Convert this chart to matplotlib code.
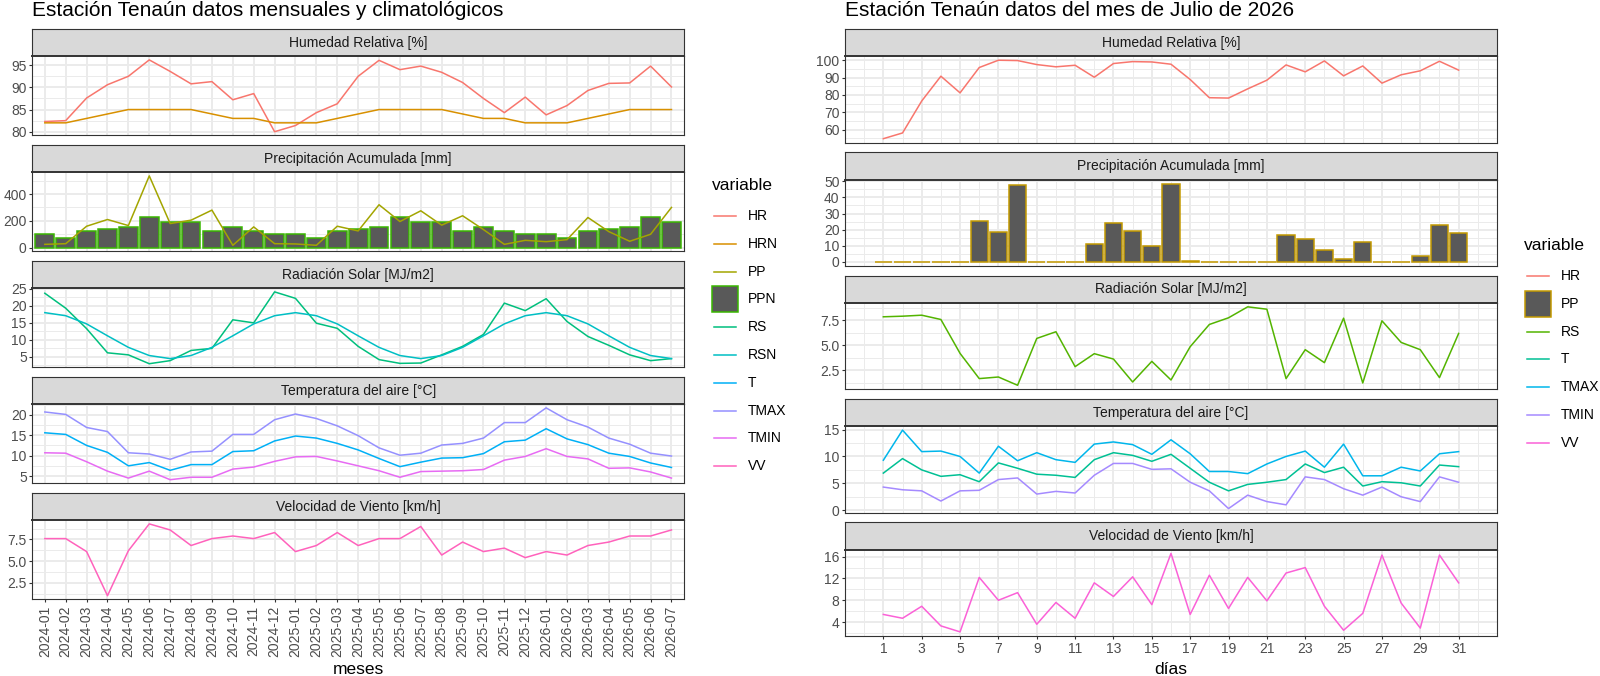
import matplotlib
matplotlib.use("Agg")
import matplotlib.pyplot as plt
from matplotlib.lines import Line2D
from matplotlib.patches import Rectangle
from matplotlib.ticker import FixedLocator, NullLocator

plt.rcParams["font.family"] = ["Liberation Sans", "DejaVu Sans"]

W, H = 1600, 676

# ---- monthly / climatological data (left) ----
MESES = ["2024-01", "2024-02", "2024-03", "2024-04", "2024-05", "2024-06",
         "2024-07", "2024-08", "2024-09", "2024-10", "2024-11", "2024-12",
         "2025-01", "2025-02", "2025-03", "2025-04", "2025-05", "2025-06",
         "2025-07", "2025-08", "2025-09", "2025-10", "2025-11", "2025-12",
         "2026-01", "2026-02", "2026-03", "2026-04", "2026-05", "2026-06",
         "2026-07"]
HR_M = [82.3, 82.5, 87.6, 90.6, 92.5, 96.2, 93.6, 90.8, 91.3, 87.2, 88.6, 80.0,
        81.4, 84.3, 86.3, 92.5, 96.1, 94.0, 94.8, 93.4, 91.1, 87.5, 84.3, 87.8,
        83.8, 85.9, 89.3, 90.9, 91.0, 94.8, 90.1]
HRN_M = [82, 82, 83, 84, 85, 85, 85, 85, 84, 83, 83, 82,
         82, 82, 83, 84, 85, 85, 85, 85, 84, 83, 83, 82,
         82, 82, 83, 84, 85, 85, 85]
PP_M = [25, 30, 160, 210, 165, 535, 180, 205, 280, 18, 155, 30,
        28, 18, 160, 125, 320, 195, 275, 168, 238, 135, 25, 55,
        45, 60, 225, 120, 48, 100, 300]
PPN_M = [100, 70, 122, 140, 157, 230, 192, 192, 122, 157, 122, 100,
         100, 70, 122, 140, 157, 230, 192, 192, 122, 157, 122, 100,
         100, 70, 122, 140, 157, 230, 192]
RS_M = [23.7, 19.3, 13.3, 6.2, 5.6, 3.0, 3.9, 6.9, 7.5, 15.9, 15.0, 24.1,
        22.2, 14.9, 13.4, 8.1, 4.2, 3.1, 3.2, 5.6, 8.1, 11.6, 20.8, 18.6,
        22.1, 15.4, 11.0, 8.4, 5.6, 3.9, 4.5]
RSN_M = [18.0, 17.1, 14.7, 11.2, 7.8, 5.4, 4.5, 5.4, 7.8, 11.2, 14.7, 17.1,
         18.0, 17.1, 14.7, 11.2, 7.8, 5.4, 4.5, 5.4, 7.8, 11.2, 14.7, 17.1,
         18.0, 17.1, 14.7, 11.2, 7.8, 5.4, 4.5]
T_M = [15.6, 15.2, 12.5, 10.8, 7.5, 8.3, 6.4, 7.8, 7.8, 11.0, 11.2, 13.6,
       14.8, 14.3, 13.0, 11.4, 9.3, 7.3, 8.4, 9.4, 9.5, 10.5, 13.4, 13.8,
       16.6, 14.1, 12.7, 10.6, 9.8, 8.2, 7.1]
TMAX_M = [20.7, 20.1, 16.9, 15.9, 10.7, 10.4, 9.1, 10.9, 11.1, 15.2, 15.2, 18.8,
          20.2, 19.1, 17.3, 14.9, 11.9, 10.1, 10.6, 12.6, 13.0, 14.3, 18.1, 18.1,
          21.7, 18.8, 17.0, 14.3, 12.8, 10.6, 9.9]
TMIN_M = [10.7, 10.6, 8.5, 6.2, 4.5, 6.2, 4.1, 4.7, 4.7, 6.7, 7.2, 8.6,
          9.7, 9.8, 8.7, 7.5, 6.3, 4.7, 6.1, 6.2, 6.3, 6.6, 8.9, 9.8,
          11.7, 9.8, 9.2, 6.9, 7.0, 6.0, 4.5]
VV_M = [7.6, 7.6, 6.1, 1.0, 6.2, 9.3, 8.6, 6.8, 7.6, 7.9, 7.6, 8.3,
        6.1, 6.8, 8.3, 6.8, 7.6, 7.6, 9.0, 5.7, 7.2, 6.1, 6.5, 5.4,
        6.1, 5.7, 6.8, 7.2, 7.9, 7.9, 8.6]

# ---- daily data, July 2026 (right) ----
DIAS = list(range(1, 32))
HR_D = [54.8, 58.1, 76.5, 90.8, 81.2, 95.8, 100.0, 99.8, 97.5, 96.2, 97.1, 90.2,
        98.1, 99.2, 99.0, 97.7, 88.9, 78.4, 78.2, 83.5, 88.5, 97.3, 93.3, 99.6,
        91.0, 96.7, 86.8, 91.6, 93.9, 99.4, 94.3]
PP_D = [0, 0, 0, 0, 0, 25.2, 18.4, 47.7, 0, 0, 0, 10.9, 24.0, 19.1, 9.8, 48.6,
        0.8, 0, 0, 0, 0, 16.6, 14.5, 7.4, 1.8, 12.3, 0, 0, 3.5, 22.7, 18.0]
RS_D = [7.87, 7.93, 8.03, 7.6, 4.2, 1.67, 1.83, 1.0, 5.7, 6.37, 2.87, 4.17,
        3.63, 1.33, 3.4, 1.53, 4.87, 7.1, 7.77, 8.87, 8.63, 1.67, 4.57, 3.27,
        7.73, 1.23, 7.47, 5.3, 4.57, 1.77, 6.2]
T_D = [6.9, 9.6, 7.5, 6.3, 6.6, 5.3, 8.8, 7.8, 6.7, 6.5, 6.1, 9.4, 10.7, 10.2,
       9.1, 10.4, 7.8, 5.2, 3.6, 4.8, 5.2, 5.7, 8.6, 7.0, 8.0, 4.5, 5.3, 5.1,
       4.5, 8.4, 8.1]
TMAX_D = [9.3, 14.9, 10.9, 11.0, 10.0, 6.9, 11.9, 9.2, 10.7, 9.4, 8.9, 12.3,
          12.7, 12.2, 10.4, 13.1, 10.5, 7.2, 7.2, 6.8, 8.6, 10.0, 11.0, 8.0,
          12.3, 6.4, 6.4, 8.0, 7.3, 10.5, 10.9]
TMIN_D = [4.3, 3.8, 3.6, 1.7, 3.6, 3.7, 5.7, 6.0, 3.0, 3.5, 3.2, 6.5, 8.7, 8.7,
          7.6, 7.7, 5.2, 3.6, 0.3, 2.8, 1.6, 1.0, 6.2, 5.7, 4.0, 2.8, 4.3, 2.5,
          1.6, 6.2, 5.2]
VV_D = [5.4, 4.7, 6.9, 3.3, 2.2, 12.2, 8.0, 9.4, 3.6, 7.6, 4.7, 11.2, 8.7, 12.3,
        7.2, 16.6, 5.4, 12.6, 6.5, 12.2, 7.9, 13.0, 14.0, 6.9, 2.5, 5.6, 16.3,
        7.5, 2.9, 16.3, 11.2]

# ggplot hue palettes (10 and 7 levels)
CL = {"HR": "#F8766D", "HRN": "#D89000", "PP": "#A3A500", "PPN": "#39B600",
      "RS": "#00BF7D", "RSN": "#00BFC4", "T": "#00B0F6", "TMAX": "#9590FF",
      "TMIN": "#E76BF3", "VV": "#FF62BC"}
CR = {"HR": "#F8766D", "PP": "#C49A00", "RS": "#53B400", "T": "#00C094",
      "TMAX": "#00B6EB", "TMIN": "#A58AFF", "VV": "#FB61D7"}
BAR_FILL = "#595959"

TOP, STRIP, GAP = 29, 27.3, 9.7
LW = 1.1
TXT = "#4D4D4D"
BORDER = "#333333"
FS = 10


def px_axes(fig, x0, y0, x1, y1):
    return fig.add_axes([x0 / W, 1 - y1 / H, (x1 - x0) / W, (y1 - y0) / H])


def facet(fig, x0, x1, row, hp, title, yticks, ylabels=None):
    y0 = TOP + row * (STRIP + hp + GAP)
    st = px_axes(fig, x0, y0, x1, y0 + STRIP)
    st.set_facecolor("#D9D9D9")
    st.set_xticks([]); st.set_yticks([])
    for s in st.spines.values():
        s.set_color(BORDER); s.set_linewidth(0.8)
    st.text(0.5, 0.5, title, ha="center", va="center", fontsize=FS,
            color="#1A1A1A", transform=st.transAxes)
    ax = px_axes(fig, x0, y0 + STRIP, x1, y0 + STRIP + hp)
    ax.set_axisbelow(True)
    for s in ax.spines.values():
        s.set_color(BORDER); s.set_linewidth(0.8)
    ax.spines["top"].set_linewidth(1.4)
    ax.yaxis.set_major_locator(FixedLocator(yticks))
    mids = [(a + b) / 2 for a, b in zip(yticks[:-1], yticks[1:])]
    step = yticks[1] - yticks[0]
    mids = [yticks[0] - step / 2] + mids + [yticks[-1] + step / 2]
    ax.yaxis.set_minor_locator(FixedLocator(mids))
    if ylabels is not None:
        ax.set_yticklabels(ylabels)
    ax.grid(which="major", color="#EBEBEB", lw=1.4)
    ax.grid(which="minor", color="#EBEBEB", lw=0.7)
    ax.tick_params(axis="y", which="major", direction="out", length=2.5,
                   width=0.8, color=BORDER, labelsize=FS, labelcolor=TXT, pad=1.5)
    ax.tick_params(axis="y", which="minor", length=0)
    ax.tick_params(axis="x", which="both", bottom=False, labelbottom=False)
    ax.margins(y=0.05)
    return ax


fig = plt.figure(figsize=(W / 100, H / 100), dpi=100)

# ---------------- left: monthly ----------------
LX0, LX1, LHP = 32.3, 684, 79
xm = list(range(1, len(MESES) + 1))
left = []
specs_l = [("Humedad Relativa [%]", [80, 85, 90, 95], None),
           ("Precipitación Acumulada [mm]", [0, 200, 400], None),
           ("Radiación Solar [MJ/m2]", [5, 10, 15, 20, 25], None),
           ("Temperatura del aire [°C]", [5, 10, 15, 20], None),
           ("Velocidad de Viento [km/h]", [2.5, 5.0, 7.5], ["2.5", "5.0", "7.5"])]
for i, (t, yt, yl) in enumerate(specs_l):
    ax = facet(fig, LX0, LX1, i, LHP, t, yt, yl)
    ax.set_xlim(0.4, 31.6)
    ax.xaxis.set_major_locator(FixedLocator(xm))
    ax.xaxis.set_minor_locator(NullLocator())
    left.append(ax)

left[0].plot(xm, HR_M, color=CL["HR"], lw=LW)
left[0].plot(xm, HRN_M, color=CL["HRN"], lw=LW)
left[1].use_sticky_edges = False
left[1].bar(xm, PPN_M, width=0.9, color=BAR_FILL, edgecolor=CL["PPN"], lw=1.1)
left[1].plot(xm, PP_M, color=CL["PP"], lw=LW)
left[1].set_xlim(0.4, 31.6)
left[2].plot(xm, RS_M, color=CL["RS"], lw=LW)
left[2].plot(xm, RSN_M, color=CL["RSN"], lw=LW)
left[3].plot(xm, T_M, color=CL["T"], lw=LW)
left[3].plot(xm, TMAX_M, color=CL["TMAX"], lw=LW)
left[3].plot(xm, TMIN_M, color=CL["TMIN"], lw=LW)
left[4].plot(xm, VV_M, color=CL["VV"], lw=LW)
lb = left[4]
lb.tick_params(axis="x", which="major", bottom=True, labelbottom=True,
               direction="out", length=2.5, width=0.8, color=BORDER,
               labelsize=FS, labelcolor=TXT, pad=2)
lb.set_xticklabels(MESES, rotation=90, ha="center", va="top")

# ---------------- right: daily ----------------
RX0, RX1, RHP = 845, 1497, 86.3
right = []
specs_r = [("Humedad Relativa [%]", [60, 70, 80, 90, 100], None),
           ("Precipitación Acumulada [mm]", [0, 10, 20, 30, 40, 50], None),
           ("Radiación Solar [MJ/m2]", [2.5, 5.0, 7.5], ["2.5", "5.0", "7.5"]),
           ("Temperatura del aire [°C]", [0, 5, 10, 15], None),
           ("Velocidad de Viento [km/h]", [4, 8, 12, 16], None)]
for i, (t, yt, yl) in enumerate(specs_r):
    ax = facet(fig, RX0, RX1, i, RHP, t, yt, yl)
    ax.set_xlim(-1.0, 33.0)
    ax.xaxis.set_major_locator(FixedLocator(DIAS[::2]))
    ax.xaxis.set_minor_locator(FixedLocator([0] + DIAS[1::2] + [32]))
    right.append(ax)

right[0].plot(DIAS, HR_D, color=CR["HR"], lw=LW)
right[1].use_sticky_edges = False
right[1].bar(DIAS, PP_D, width=0.9, color=BAR_FILL, edgecolor=CR["PP"], lw=1.1)
right[1].set_xlim(-1.0, 33.0)
right[2].plot(DIAS, RS_D, color=CR["RS"], lw=LW)
right[3].plot(DIAS, T_D, color=CR["T"], lw=LW)
right[3].plot(DIAS, TMAX_D, color=CR["TMAX"], lw=LW)
right[3].plot(DIAS, TMIN_D, color=CR["TMIN"], lw=LW)
right[4].plot(DIAS, VV_D, color=CR["VV"], lw=LW)
rb = right[4]
rb.tick_params(axis="x", which="major", bottom=True, labelbottom=True,
               direction="out", length=2.5, width=0.8, color=BORDER,
               labelsize=FS, labelcolor=TXT, pad=2)

# ---------------- titles ----------------
fig.text(LX0 / W, 1 - 16 / H, "Estación Tenaún datos mensuales y climatológicos",
         fontsize=15, va="baseline", ha="left")
fig.text(RX0 / W, 1 - 16 / H, "Estación Tenaún datos del mes de Julio de 2026",
         fontsize=15, va="baseline", ha="left")
fig.text((LX0 + LX1) / 2 / W, 1 - 674 / H, "meses", fontsize=12.5,
         va="baseline", ha="center")
fig.text((RX0 + RX1) / 2 / W, 1 - 674 / H, "días", fontsize=12.5,
         va="baseline", ha="center")

# ---------------- legends (drawn in pixel space) ----------------
lg = fig.add_axes([0, 0, 1, 1], zorder=-1)
lg.set_xlim(0, W); lg.set_ylim(H, 0); lg.axis("off")


def legend(x0, y_title, y_first, entries, colors, bar_key, bar_edge):
    lg.text(x0, y_title, "variable", fontsize=12.5, va="center", ha="left")
    for k, name in enumerate(entries):
        yc = y_first + k * 27.8
        if name == bar_key:
            lg.add_patch(Rectangle((x0 + 0.5, yc - 13), 26, 26, facecolor=BAR_FILL,
                                   edgecolor=bar_edge, lw=1.1))
        else:
            lg.add_line(Line2D([x0 + 2.5, x0 + 24.5], [yc, yc], color=colors[name], lw=LW))
        lg.text(x0 + 36.5, yc, name, fontsize=FS, va="center", ha="left")


legend(711.5, 185, 216, list(CL.keys()), CL, "PPN", CL["PPN"])
legend(1524, 245, 276, list(CR.keys()), CR, "PP", CR["PP"])

fig.savefig("out.png", dpi=100)
